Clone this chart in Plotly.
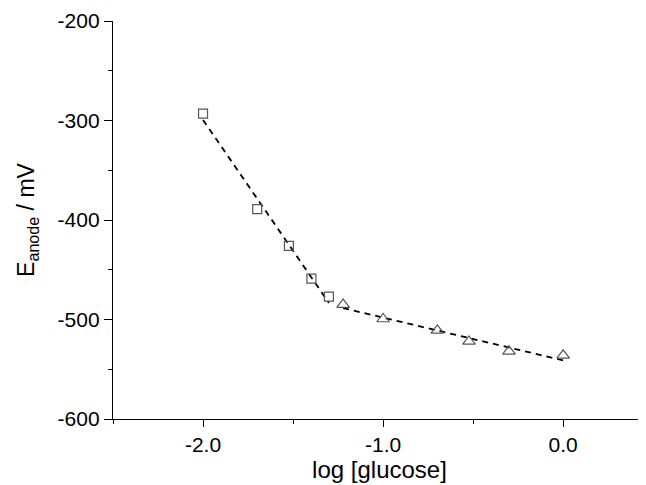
import numpy as np
import plotly.graph_objects as go

# Data
log_glucose_low = [-2.0, -1.699, -1.523, -1.398, -1.301]
e_anode_low = [-293, -389, -426, -459, -477]

log_glucose_high = [-1.222, -1.0, -0.699, -0.523, -0.301, 0.0]
e_anode_high = [-485, -499.5, -511, -522, -532, -536]

x_ticks = [-2.0, -1.0, 0.0]
y_ticks = [-600, -500, -400, -300, -200]


def fit_line(xs, ys):
    k, b = np.polyfit(xs, ys, 1)
    xe = [min(xs), max(xs)]
    return xe, [k * v + b for v in xe]


fig = go.Figure()

fx1, fy1 = fit_line(log_glucose_low, e_anode_low)
fx2, fy2 = fit_line(log_glucose_high, e_anode_high)

line_style = dict(color="black", width=1.8, dash="6px,5px")
fig.add_trace(go.Scatter(x=fx1, y=fy1, mode="lines", line=line_style, showlegend=False, hoverinfo="skip"))
fig.add_trace(go.Scatter(x=fx2, y=fy2, mode="lines", line=line_style, showlegend=False, hoverinfo="skip"))

fig.add_trace(go.Scatter(
    x=log_glucose_low, y=e_anode_low, mode="markers",
    marker=dict(symbol="square-open", size=9, color="#555555", line=dict(width=1.2)),
    showlegend=False))
fig.add_trace(go.Scatter(
    x=log_glucose_high, y=e_anode_high, mode="markers",
    marker=dict(symbol="triangle-up-open", size=11, color="#555555", line=dict(width=1.2)),
    showlegend=False))

font_family = "Liberation Sans, Arial, sans-serif"

# page body has an 8px default margin, so the figure is sized to fit the window
fig.update_layout(
    width=638, height=477,
    margin=dict(l=105, r=0, t=13, b=66),
    paper_bgcolor="white", plot_bgcolor="white",
    font=dict(family=font_family, color="black"),
    showlegend=False,
)

fig.update_xaxes(
    range=[-2.5, 0.46],
    tickvals=x_ticks, ticktext=[f"{v:.1f}" for v in x_ticks],
    ticks="outside", ticklen=7, tickwidth=1.2, tickcolor="black",
    minor=dict(dtick=0.5, tick0=-2.5, ticks="outside", ticklen=4, tickcolor="black", tickwidth=1.2),
    showline=True, linecolor="black", linewidth=1.3,
    showgrid=False, zeroline=False,
    tickfont=dict(size=21),
    title=dict(text="log [glucose]", font=dict(size=24), standoff=5),
)

fig.update_yaxes(
    range=[-600, -200],
    tickvals=y_ticks, ticktext=[str(v) for v in y_ticks],
    ticks="outside", ticklen=8, tickwidth=1.2, tickcolor="black",
    minor=dict(dtick=50, tick0=-600, ticks="outside", ticklen=4, tickcolor="black", tickwidth=1.2),
    showline=True, linecolor="black", linewidth=1.3,
    showgrid=False, zeroline=False,
    tickfont=dict(size=21),
    title=dict(text="E<sub>anode</sub> / mV", font=dict(size=23), standoff=16),
)

fig.write_html("out.html")
